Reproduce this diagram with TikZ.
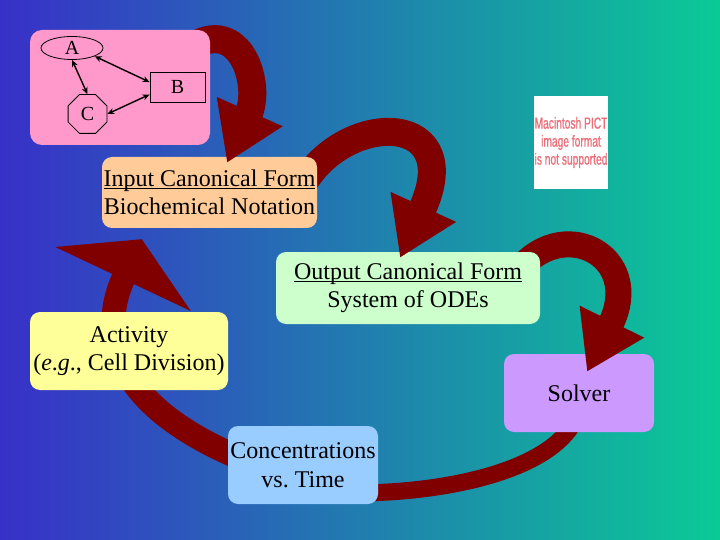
\documentclass[tikz,border=0pt]{standalone}
\usepackage{fontspec}
\setmainfont{Liberation Serif}
\newfontfamily\pictfont[FakeStretch=0.64, FakeBold=0.8]{Liberation Sans}
\newcommand\undl[1]{\underline{\smash{#1}}\vphantom{#1}}
\definecolor{bgleft}{RGB}{56, 48, 200}
\definecolor{bgmid}{RGB}{32, 152, 178}
\definecolor{bgright}{RGB}{10, 202, 150}
\definecolor{curlred}{RGB}{128, 0, 0}
\definecolor{rosy}{RGB}{255, 153, 204}
\definecolor{peach}{RGB}{255, 204, 153}
\definecolor{mint}{RGB}{204, 255, 204}
\definecolor{lemon}{RGB}{255, 255, 153}
\definecolor{lilac}{RGB}{204, 153, 255}
\definecolor{sky}{RGB}{153, 204, 255}
\definecolor{pictred}{RGB}{235, 110, 120}
\usetikzlibrary{arrows.meta, shapes.geometric, calc}
\pgfdeclarelayer{bg}
\pgfdeclarelayer{flowA}
\pgfdeclarelayer{boxA}
\pgfdeclarelayer{flowB}
\pgfdeclarelayer{boxB}
\pgfdeclarelayer{flowC}
\pgfdeclarelayer{boxC}
\pgfdeclarelayer{flowD}
\pgfsetlayers{bg,flowA,boxA,flowB,boxB,flowC,boxC,flowD,main}
\tikzset{
	card/.style={rectangle, rounded corners=10pt, inner sep=0pt, align=center, font=\fontsize{24}{28.5}\selectfont},
	curl/.style={draw=curlred, line width=28pt, -{Triangle[length=56pt, width=68pt]}},
	band/.style={draw=curlred, line width=17pt},
	gnode/.style={draw=black, line width=0.8pt, inner sep=0pt, font=\fontsize{20}{24}\selectfont},
	both/.style={{Stealth[length=7pt, width=6pt]}-{Stealth[length=7pt, width=6pt]}, line width=1.4pt},
}

\begin{document}
\begin{tikzpicture}[x=1pt, y=-1pt]
	\begin{pgfonlayer}{bg}
		\shade[left color=bgleft, middle color=bgmid, right color=bgright] (0,0) rectangle (720,540);
	\end{pgfonlayer}
	\useasboundingbox (0,0) rectangle (720,540);
	% boxes
	\begin{pgfonlayer}{boxA}
		\node[card, fill=lemon, minimum width=198, minimum height=78] (act) at (129,351) {Activity\\(\textit{e}.\textit{g}., Cell Division)};
		\node[card, fill=lilac, minimum width=150, minimum height=78] (solver) at (579,393) {Solver};
		\node[card, fill=sky, minimum width=150, minimum height=78] (conc) at (303,465) {Concentrations\\vs.\ Time};
	\end{pgfonlayer}
	\begin{pgfonlayer}{boxB}
		\node[card, fill=mint, minimum width=264, minimum height=72] (output) at (408,288) {\undl{Output Canonical Form}\\System of ODEs};
	\end{pgfonlayer}
	\begin{pgfonlayer}{boxC}
		\node[card, fill=peach, minimum width=215, minimum height=71] (input) at (209.5,192.5) {\undl{Input Canonical Form}\\Biochemical Notation};
	\end{pgfonlayer}
	\node[rectangle, rounded corners=12pt, fill=rosy, minimum width=180, minimum height=115] (pink) at (120,87.5) {};
	\node[gnode, ellipse, minimum width=62, minimum height=23] (a) at (72,48) {A};
	\node[gnode, rectangle, minimum width=55, minimum height=30] (b) at (177.5,87) {B};
	\node[gnode, regular polygon, regular polygon sides=8, minimum size=42] (c) at (87.5,114) {C};
	\foreach \u/\v in {a.-20/b.170, a.south/c.north, c.east/b.-165}{\draw[both] (\u) -- (\v);}
	\node[fill=white, minimum width=74, minimum height=93, inner sep=0pt, align=center, text=pictred, font=\pictfont\fontsize{16}{18}\selectfont] (pict) at (571,142.5) {Macintosh PICT\\image format\\is not supported};
	% curved arrows
	\begin{pgfonlayer}{flowA}
		\draw[band] ($(solver.south)+(-4,-12)$) .. controls (550,470) and (450,492) .. ($(conc.east)+(-18,28)$);
		\draw[curl, line width=24pt, -{Triangle[length=44pt, width=148pt]}] ($(conc.west)+(12,-7)$) .. controls (93,396) and (106,315) .. ($(input.south west)+(40,11)$);
	\end{pgfonlayer}
	\begin{pgfonlayer}{flowB}
		\draw[curl, line width=26pt] ($(output.north east)+(-25,23)$) .. controls (560,212) and (645,255) .. ($(solver.north)+(8,18)$);
	\end{pgfonlayer}
	\begin{pgfonlayer}{flowC}
		\draw[curl] ($(input.east)+(-22,7.5)$) .. controls (330,110) and (470,105) .. ($(output.north)+(-8,6)$);
	\end{pgfonlayer}
	\begin{pgfonlayer}{flowD}
		\draw[curl] ($(pink.north east)+(-20,18)$) .. controls (240,15) and (262,84) .. ($(input.north)+(17.5,6)$);
	\end{pgfonlayer}
\end{tikzpicture}
\end{document}
